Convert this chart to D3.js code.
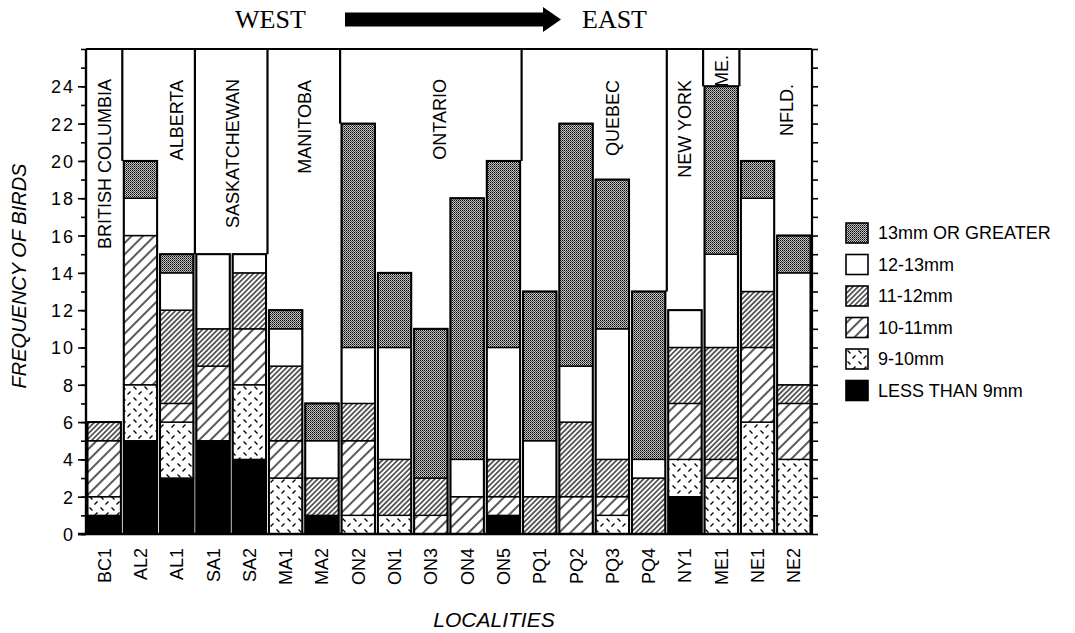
<!DOCTYPE html>
<html>
<head>
<meta charset="utf-8">
<script src="https://cdn.jsdelivr.net/npm/d3@7"></script>
<style>
  body { margin: 0; background: #fff; }
  svg text { font-family: "Liberation Sans", Arial, Helvetica, sans-serif; fill: #000; }
</style>
</head>
<body>
<svg id="chart" width="1075" height="633"></svg>
<script>
// data
const localities = ['BC1', 'AL2', 'AL1', 'SA1', 'SA2', 'MA1', 'MA2', 'ON2', 'ON1', 'ON3',
  'ON4', 'ON5', 'PQ1', 'PQ2', 'PQ3', 'PQ4', 'NY1', 'ME1', 'NE1', 'NE2'];
const regionNames = ['BRITISH COLUMBIA', 'ALBERTA', 'SASKATCHEWAN', 'MANITOBA', 'ONTARIO',
  'QUEBEC', 'NEW YORK', 'ME.', 'NFLD.'];
const regionSizes = [1, 2, 2, 2, 5, 4, 1, 1, 2];
const sizeClasses = ['LESS THAN 9mm', '9-10mm', '10-11mm', '11-12mm', '12-13mm', '13mm OR GREATER'];

const lessThan9 = [1, 5, 3, 5, 4, 0, 1, 0, 0, 0, 0, 1, 0, 0, 0, 0, 2, 0, 0, 0];
const mm9to10   = [1, 3, 3, 0, 4, 3, 0, 1, 1, 0, 0, 0, 0, 0, 1, 0, 2, 3, 6, 4];
const mm10to11  = [3, 8, 1, 4, 3, 2, 0, 4, 0, 1, 2, 1, 0, 2, 1, 0, 3, 1, 4, 3];
const mm11to12  = [1, 0, 5, 2, 3, 4, 2, 2, 3, 2, 0, 2, 2, 4, 2, 3, 3, 6, 3, 1];
const mm12to13  = [0, 2, 2, 4, 1, 2, 2, 3, 6, 0, 2, 6, 3, 3, 7, 1, 2, 5, 5, 6];
const mm13plus  = [0, 2, 1, 0, 0, 1, 2, 12, 4, 8, 14, 10, 8, 13, 8, 9, 0, 9, 2, 2];

const yTickValues = [0, 2, 4, 6, 8, 10, 12, 14, 16, 18, 20, 22, 24];
const yMax = 26;

// layout
const plot = {left: 86, right: 812, top: 49, bottom: 534};
// region label placement: shift (in bands) from the region centre, and top of the text
const regionLabelShift = [0, 0.5, 0.05, 0.03, 0.25, 0.5, 0, 0, 0.3];
const regionLabelTop = [79, 80, 79, 80, 79, 80, 80, 55, 84];

const keys = ['lt9', 'mm9', 'mm10', 'mm11', 'mm12', 'mm13'];
const table = localities.map((loc, i) => ({
  locality: loc,
  lt9: lessThan9[i], mm9: mm9to10[i], mm10: mm10to11[i],
  mm11: mm11to12[i], mm12: mm12to13[i], mm13: mm13plus[i]
}));
const totals = table.map(d => keys.reduce((s, k) => s + d[k], 0));

const svg = d3.select('#chart');

// fill patterns
const defs = svg.append('defs');

const stip = defs.append('pattern')
  .attr('id', 'p-mm13').attr('width', 2).attr('height', 2)
  .attr('patternUnits', 'userSpaceOnUse');
stip.append('rect').attr('width', 2).attr('height', 2).attr('fill', '#c4c4c4');
stip.append('rect').attr('width', 1).attr('height', 1).attr('fill', '#000');
stip.append('rect').attr('x', 1).attr('y', 1).attr('width', 1).attr('height', 1).attr('fill', '#4a4a4a');

function hatch(id, gap, sw) {
  const p = defs.append('pattern')
    .attr('id', id).attr('width', gap).attr('height', gap)
    .attr('patternUnits', 'userSpaceOnUse')
    .attr('patternTransform', 'rotate(45)');
  p.append('rect').attr('width', gap).attr('height', gap).attr('fill', '#fff');
  p.append('line')
    .attr('x1', gap / 2).attr('y1', 0).attr('x2', gap / 2).attr('y2', gap)
    .attr('stroke', '#000').attr('stroke-width', sw);
}
hatch('p-mm11', 3.6, 1.2);
hatch('p-mm10', 8, 1.3);

const dash = defs.append('pattern')
  .attr('id', 'p-mm9').attr('width', 11).attr('height', 11)
  .attr('patternUnits', 'userSpaceOnUse');
dash.append('rect').attr('width', 11).attr('height', 11).attr('fill', '#fff');
dash.append('path')
  .attr('d', 'M1.5,1.5L4.5,4.5M6.5,9.5L9.5,6.5')
  .attr('stroke', '#000').attr('stroke-width', 1.4).attr('fill', 'none');

const fills = {
  lt9: '#000', mm9: 'url(#p-mm9)', mm10: 'url(#p-mm10)',
  mm11: 'url(#p-mm11)', mm12: '#fff', mm13: 'url(#p-mm13)'
};

// scales
const x = d3.scaleBand()
  .domain(localities)
  .range([plot.left, plot.right])
  .paddingInner(0.08)
  .paddingOuter(0.04);
const y = d3.scaleLinear().domain([0, yMax]).range([plot.bottom, plot.top]);
const step = x.step();
const gapHalf = (step - x.bandwidth()) / 2;
const boundary = k => k < localities.length ? x(localities[k]) - gapHalf : plot.right;

// region dividers (behind the bars)
let start = 0;
const regions = regionNames.map((name, i) => {
  const r = {name, start, end: start + regionSizes[i], shift: regionLabelShift[i], top: regionLabelTop[i]};
  start += regionSizes[i];
  return r;
});

svg.append('g').attr('class', 'dividers')
  .selectAll('line')
  .data(regions.slice(1))
  .join('line')
    .attr('x1', d => boundary(d.start))
    .attr('x2', d => boundary(d.start))
    .attr('y1', plot.top)
    .attr('y2', d => y(Math.max(totals[d.start - 1], totals[d.start])))
    .attr('stroke', '#000')
    .attr('stroke-width', 2.2);

// stacked bars
const series = d3.stack().keys(keys)(table);

svg.append('g').attr('class', 'bars')
  .selectAll('g')
  .data(series)
  .join('g')
    .attr('fill', d => fills[d.key])
  .selectAll('rect')
  .data(d => d.filter(s => s[1] > s[0]))
  .join('rect')
    .attr('x', d => x(d.data.locality))
    .attr('y', d => y(d[1]))
    .attr('width', x.bandwidth())
    .attr('height', d => y(d[0]) - y(d[1]))
    .attr('stroke', '#000')
    .attr('stroke-width', 1.4);

svg.append('g').attr('class', 'bar-outlines')
  .selectAll('rect')
  .data(table)
  .join('rect')
    .attr('x', d => x(d.locality))
    .attr('y', (d, i) => y(totals[i]))
    .attr('width', x.bandwidth())
    .attr('height', (d, i) => y(0) - y(totals[i]))
    .attr('fill', 'none')
    .attr('stroke', '#000')
    .attr('stroke-width', 2);

svg.append('g').attr('class', 'region-labels')
  .selectAll('text')
  .data(regions)
  .join('text')
    .attr('transform', d => {
      const cx = boundary(d.start) + ((d.end - d.start) / 2 + d.shift) * step;
      return `translate(${cx},${d.top}) rotate(-90)`;
    })
    .attr('text-anchor', 'end')
    .attr('dy', '0.36em')
    .style('font-size', '18px')
    .text(d => d.name);

// frame and axes
svg.append('line')
  .attr('x1', plot.left).attr('x2', plot.right)
  .attr('y1', plot.top).attr('y2', plot.top)
  .attr('stroke', '#000').attr('stroke-width', 2);

const minorTicks = d3.range(0, yMax + 1);

const leftMinor = svg.append('g')
  .attr('transform', `translate(${plot.left},0)`)
  .call(d3.axisLeft(y).tickValues(minorTicks).tickSize(5).tickFormat(''));
const leftAxis = svg.append('g')
  .attr('transform', `translate(${plot.left},0)`)
  .call(d3.axisLeft(y).tickValues(yTickValues).tickSize(8).tickPadding(3));
const rightAxis = svg.append('g')
  .attr('transform', `translate(${plot.right},0)`)
  .call(d3.axisRight(y).tickValues(minorTicks).tickSize(6).tickFormat(''));

[leftMinor, leftAxis, rightAxis].forEach(g => {
  g.select('.domain').attr('stroke-width', 2.2)
    .attr('d', `M0,${plot.top}V${plot.bottom}`);
  g.selectAll('.tick line').attr('stroke-width', 1.6);
});
leftAxis.selectAll('.tick text')
  .style('font-family', '"Liberation Sans", Arial, sans-serif')
  .style('font-size', '18px')
  .style('letter-spacing', '2px')
  .attr('dy', '0.36em');

svg.append('line')
  .attr('x1', plot.left - 8).attr('x2', plot.right)
  .attr('y1', plot.bottom).attr('y2', plot.bottom)
  .attr('stroke', '#000').attr('stroke-width', 2.4);

// locality labels
svg.append('g').attr('class', 'x-labels')
  .selectAll('text')
  .data(localities)
  .join('text')
    .attr('transform', d => `translate(${x(d) + x.bandwidth() / 2},${548}) rotate(-90)`)
    .attr('text-anchor', 'end')
    .attr('dy', '0.36em')
    .style('font-size', '18px')
    .text(d => d);

// axis titles
svg.append('text')
  .attr('transform', 'translate(19,276) rotate(-90)')
  .attr('text-anchor', 'middle')
  .attr('dy', '0.36em')
  .style('font-size', '20px')
  .style('font-style', 'italic')
  .text('FREQUENCY OF BIRDS');

svg.append('text')
  .attr('x', 494).attr('y', 627)
  .attr('text-anchor', 'middle')
  .style('font-size', '21px')
  .style('font-style', 'italic')
  .text('LOCALITIES');

// WEST -> EAST header
const serif = '"Liberation Serif", "Times New Roman", serif';
svg.append('text')
  .attr('x', 235).attr('y', 28)
  .style('font-family', serif).style('font-size', '26px')
  .text('WEST');
svg.append('text')
  .attr('x', 582).attr('y', 28)
  .style('font-family', serif).style('font-size', '26px')
  .text('EAST');
svg.append('path')
  .attr('d', 'M345,12.5H543V7L561,19.5L543,32V26.5H345Z')
  .attr('fill', '#000');

// legend
const legend = svg.append('g').attr('class', 'legend')
  .attr('transform', 'translate(846,223)');
const legendItems = keys.map((k, i) => ({key: k, label: sizeClasses[i]})).reverse();
const row = legend.selectAll('g')
  .data(legendItems)
  .join('g')
    .attr('transform', (d, i) => `translate(0,${i * 31.5})`);
row.append('rect')
  .attr('width', 22).attr('height', 20)
  .attr('fill', d => fills[d.key])
  .attr('stroke', '#000').attr('stroke-width', 1.6);
row.append('text')
  .attr('x', 32).attr('y', 10)
  .attr('dy', '0.36em')
  .style('font-size', '18px')
  .text(d => d.label);
</script>
</body>
</html>
